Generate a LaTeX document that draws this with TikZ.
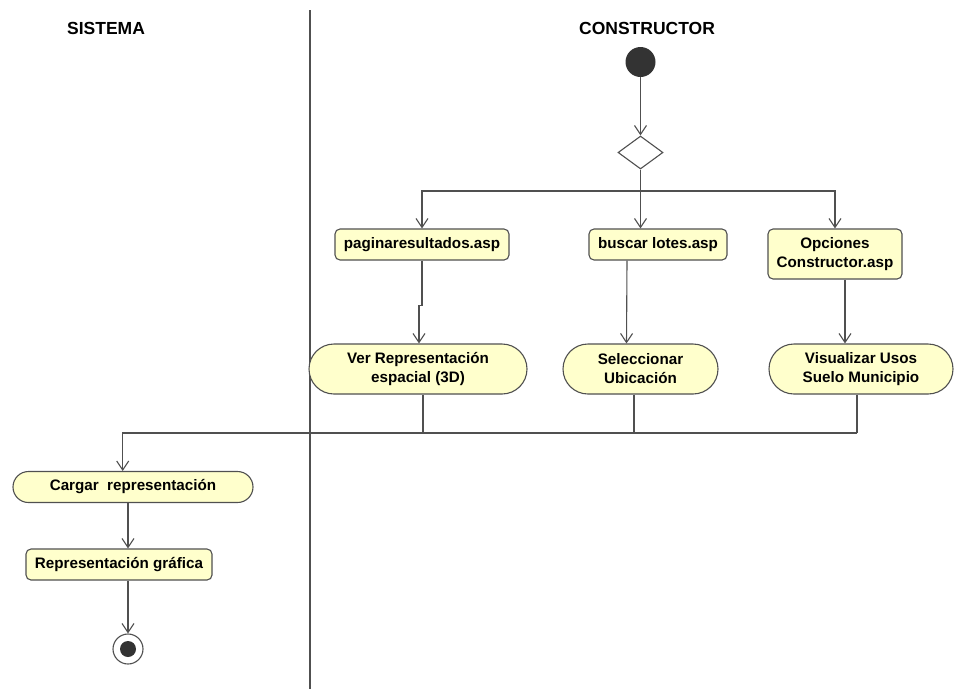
\documentclass[tikz,border=0pt]{standalone}
\usepackage{fontspec}
\setmainfont{Liberation Sans}
\usepackage{xcolor}
\usetikzlibrary{arrows.meta}
\usetikzlibrary{shapes.geometric,shapes.misc}

\definecolor{umlfill}{RGB}{255,255,204}
\definecolor{umlline}{RGB}{80,80,80}
\definecolor{umldark}{RGB}{51,51,51}

\tikzset{
  lane/.style={font=\fontsize{17.5}{20}\selectfont\bfseries},
  action/.style={draw=umlline, fill=umlfill, line width=1.1pt, rounded corners=5pt,
    inner sep=0pt, align=center, font=\fontsize{15.2}{19}\selectfont\bfseries},
  activity/.style={rounded rectangle, draw=umlline, fill=umlfill, line width=1.1pt,
    inner sep=0pt, align=center, font=\fontsize{15.2}{19}\selectfont\bfseries},
  flow/.style={draw=umlline, line width=1.1pt, -{Straight Barb[length=9pt,width=12pt]}},
  link/.style={draw=umlline, line width=1.1pt},
}

\begin{document}
\begin{tikzpicture}[x=1pt,y=-1pt]
\useasboundingbox (0,0) rectangle (979,689);
% swimlanes
\node[lane] (sis) at (106,28) {SISTEMA};
\node[lane] (con) at (647,28) {CONSTRUCTOR};
\draw[link] (310,10) -- (310,689);

% start and decision
\node[circle, fill=umldark, minimum size=30pt, inner sep=0pt] (ini) at (640.5,62) {};
\node[diamond, draw=umlline, fill=white, line width=1.1pt, inner sep=0pt,
  minimum width=45pt, minimum height=33pt] (dec) at (640.5,152.5) {};
\coordinate (split) at (640.5,191);

% constructor
\node[action, minimum width=174pt, minimum height=31pt] (pag) at (422,244.5) {paginaresultados.asp};
\node[action, minimum width=138pt, minimum height=31pt] (bus) at (658,244.5) {buscar lotes.asp};
\node[action, minimum width=134pt, minimum height=50pt] (opc) at (835,254) {Opciones\\Constructor.asp};
\node[activity, minimum width=218pt, minimum height=50pt] (ver) at (418,369) {Ver Representación\\espacial (3D)};
\node[activity, minimum width=155pt, minimum height=50pt] (sel) at (640.5,369) {Seleccionar\\Ubicación};
\node[activity, minimum width=184pt, minimum height=50pt] (vis) at (861,369) {Visualizar Usos\\Suelo Municipio};
\coordinate (merge) at (857,433);

% sistema
\node[activity, minimum width=240pt, minimum height=31pt] (car) at (133,487) {Cargar~ representación};
\node[action, minimum width=186pt, minimum height=31pt] (rep) at (119,564.5) {Representación gráfica};
\node[circle, draw=umlline, fill=white, line width=1.1pt, minimum size=30pt, inner sep=0pt,
  path picture={\fill[umldark] (path picture bounding box.center) circle (8pt);}] (fin) at (128,649) {};

% flows
\draw[flow] (ini) -- (dec);
\draw[link] (dec) -- (split);
\draw[flow] (split) -| (pag.north);
\draw[flow] (split) -| (opc.north);
\draw[flow] (split) -- ([xshift=-17.5pt]bus.north);
\draw[flow] (pag.south) -- ++(0,45) -| ([xshift=1pt]ver.north);
\draw[flow] ([xshift=-31pt]bus.south) -- ([xshift=-14pt]sel.north);
\draw[flow] ([xshift=10pt]opc.south) -- ([xshift=-16pt]vis.north);
\draw[link] ([xshift=-4pt]vis.south) -- (merge);
\draw[link] ([xshift=5pt]ver.south) -- ++(0,39);
\draw[link] ([xshift=-6.5pt]sel.south) -- ++(0,39);
\draw[flow] (merge) -| ([xshift=-10.3pt]car.north);
\draw[flow] ([xshift=-5pt]car.south) -- ([xshift=9pt]rep.north);
\draw[flow] ([xshift=9pt]rep.south) -- (fin);
\end{tikzpicture}
\end{document}
